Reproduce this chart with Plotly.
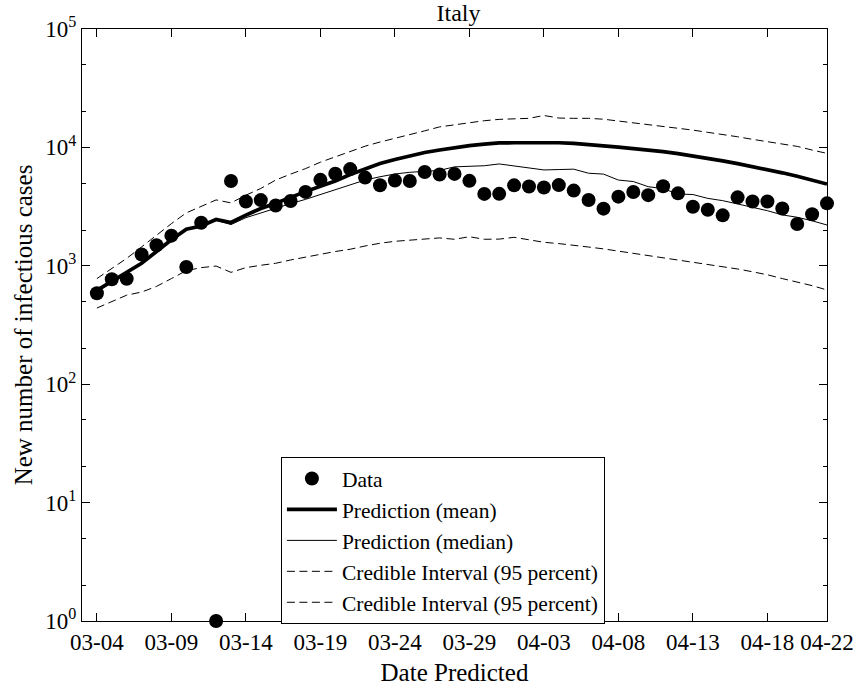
import plotly.graph_objects as go
import pandas as pd

dates = pd.date_range("2020-03-04", "2020-04-22", freq="D").strftime("%Y-%m-%d").tolist()

data = [587, 769, 778, 1247, 1492, 1797, 977, 2313, 1, 5198,
        3497, 3590, 3233, 3526, 4207, 5322, 5986, 6557, 5560, 4789,
        5249, 5210, 6203, 5909, 5974, 5217, 4050, 4053, 4782, 4668,
        4585, 4805, 4316, 3599, 3039, 3836, 4204, 3951, 4694, 4092,
        3153, 2972, 2667, 3786, 3493, 3491, 3047, 2256, 2729, 3370]

mean = [620, 740, 880, 1050, 1320, 1660, 2040, 2170, 2460, 2320,
        2680, 3050, 3380, 3800, 4230, 4700, 5200, 5900, 6600, 7300,
        7900, 8500, 9050, 9500, 9950, 10350, 10650, 10900, 10950, 11000,
        11000, 10950, 10800, 10600, 10350, 10050, 9750, 9500, 9200, 8850,
        8500, 8100, 7700, 7300, 6900, 6500, 6100, 5700, 5300, 4900]

median = [600, 730, 870, 1040, 1310, 1650, 2020, 2150, 2420, 2230,
          2550, 2800, 3060, 3350, 3640, 4000, 4360, 4800, 5300, 5650,
          5960, 6160, 6300, 6400, 6850, 6950, 7000, 7250, 6950, 6700,
          6450, 6500, 6550, 6050, 5950, 5300, 5150, 4660, 4480, 4040,
          4000, 3710, 3550, 3330, 3120, 2920, 2690, 2570, 2400, 2210]

upper = [780, 950, 1155, 1445, 1820, 2270, 2800, 3160, 3600, 3400,
         3950, 4500, 5300, 5950, 6620, 7500, 8340, 9300, 10240, 11100,
         11900, 12800, 13800, 14900, 15500, 16200, 16800, 17250, 17500, 17600,
         18600, 17700, 17600, 17600, 17300, 16700, 16200, 15700, 15000, 14500,
         14000, 13400, 12900, 12300, 11700, 11200, 10700, 10200, 9500, 8900]

lower = [440, 495, 565, 600, 670, 780, 910, 965, 995, 880,
         965, 1010, 1050, 1120, 1190, 1250, 1320, 1380, 1470, 1550,
         1610, 1650, 1690, 1720, 1675, 1760, 1675, 1680, 1740, 1650,
         1580, 1540, 1480, 1440, 1390, 1330, 1290, 1230, 1180, 1130,
         1080, 1035, 990, 940, 890, 840, 780, 730, 680, 625]

xtick_vals = ["2020-03-04", "2020-03-09", "2020-03-14", "2020-03-19", "2020-03-24",
              "2020-03-29", "2020-04-03", "2020-04-08", "2020-04-13", "2020-04-18",
              "2020-04-22"]
xtick_text = ["03-04", "03-09", "03-14", "03-19", "03-24", "03-29", "04-03",
              "04-08", "04-13", "04-18", "04-22"]
ytick_vals = [1, 10, 100, 1000, 10000, 100000]
ytick_text = ["10<sup>0</sup>", "10<sup>1</sup>", "10<sup>2</sup>",
              "10<sup>3</sup>", "10<sup>4</sup>", "10<sup>5</sup>"]

FONT = "Liberation Serif"
DASH = "8px,4.5px"

fig = go.Figure()
fig.add_trace(go.Scatter(x=dates, y=data, mode="markers", name="Data",
                         marker=dict(color="black", size=14, symbol="circle"),
                         cliponaxis=False))
fig.add_trace(go.Scatter(x=dates, y=mean, mode="lines", name="Prediction (mean)",
                         line=dict(color="black", width=3.7)))
fig.add_trace(go.Scatter(x=dates, y=median, mode="lines", name="Prediction (median)",
                         line=dict(color="black", width=1)))
fig.add_trace(go.Scatter(x=dates, y=upper, mode="lines", name="Credible Interval (95 percent)",
                         line=dict(color="black", width=1, dash=DASH)))
fig.add_trace(go.Scatter(x=dates, y=lower, mode="lines", name="Credible Interval (95 percent)",
                         line=dict(color="black", width=1, dash=DASH)))

fig.update_layout(
    width=866, height=694,
    margin=dict(l=82, r=31, t=29, b=73),
    paper_bgcolor="white", plot_bgcolor="white",
    font=dict(family=FONT, size=23, color="black"),
    title=dict(text="Italy", x=(82 + 835) / 2 / 866, xanchor="center",
               y=1 - 13 / 694, yanchor="middle", font=dict(family=FONT, size=24)),
    showlegend=True,
    legend=dict(x=0.267, y=(621 - 457) / 592, xanchor="left", yanchor="top",
                bordercolor="black", borderwidth=1, bgcolor="white",
                font=dict(family=FONT, size=21.5), itemwidth=50,
                traceorder="normal"),
)
fig.update_xaxes(type="date", range=["2020-03-03", "2020-04-22"],
                 tickvals=xtick_vals, ticktext=xtick_text,
                 ticks="inside", ticklen=8, tickcolor="black",
                 showline=True, linecolor="black", linewidth=1, mirror="ticks",
                 showgrid=False, zeroline=False,
                 title=dict(text="Date Predicted", font=dict(family=FONT, size=25), standoff=9),
                 tickfont=dict(family=FONT, size=23))
fig.update_yaxes(type="log", range=[0, 5],
                 tickvals=ytick_vals, ticktext=ytick_text,
                 ticks="inside", ticklen=8, tickcolor="black",
                 minor=dict(ticks="inside", ticklen=4, tickcolor="black", showgrid=False),
                 showline=True, linecolor="black", linewidth=1, mirror="ticks",
                 showgrid=False, zeroline=False,
                 title=dict(text="New number of infectious cases", font=dict(family=FONT, size=25), standoff=5),
                 tickfont=dict(family=FONT, size=23))

fig.write_html("out.html")
